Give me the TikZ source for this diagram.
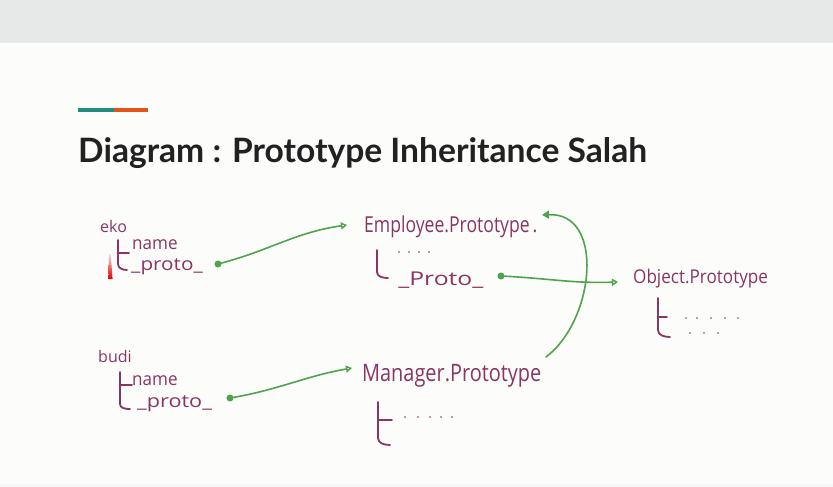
\documentclass[tikz,border=0pt]{standalone}
\usepackage{fontspec}
\setmainfont{Open Sans}
\newfontfamily\titlefont{Lato}
\usetikzlibrary{arrows.meta}
\definecolor{ink}{HTML}{8A3563}
\definecolor{pen}{HTML}{4FA34B}
\definecolor{band}{HTML}{E5E8E7}
\definecolor{paper}{HTML}{FCFCFB}
\definecolor{teal}{HTML}{1F8E7E}
\definecolor{rust}{HTML}{E4531C}
\tikzset{
  hand/.style={text=ink, inner sep=0pt, anchor=base west},
  tree/.style={draw=ink, line width=1.8pt, line cap=round, line join=round},
  link/.style={draw=pen, line width=1.6pt, line cap=round},
  dotnode/.style={circle, fill=pen, inner sep=0pt, minimum size=7pt},
  openhead/.style={-{Triangle[open,length=6pt,width=7pt,line width=1.4pt]}},
  fullhead/.style={-{Triangle[length=7pt,width=8pt]}},
  etc/.style={fill=ink, radius=0.9},
}
\newcommand{\fs}[1]{\fontsize{#1}{#1}\selectfont}
\begin{document}
\begin{tikzpicture}[x=1pt,y=-1pt]
% slide background
\fill[paper] (0,0) rectangle (833,487);
\useasboundingbox (0,0) rectangle (833,487);
\fill[band] (0,0) rectangle (833,42);
\draw[black!8] (0,42.5) -- (833,42.5);
\fill[black!3] (0,484) rectangle (833,487);
% accent bar and title
\fill[teal] (78,108) rectangle (114,112);
\fill[rust] (114,108) rectangle (148,112);
\node[anchor=base west, inner sep=0pt, text=black!87] (title) at (78,162)
  {\titlefont\bfseries\fs{33.6}Diagram : Prototype Inheritance Salah};

% object eko
\node[hand, font=\fs{16}] (eko) at (100,232) {eko};
\node[hand, font=\fs{18}, xscale=0.95] (ekoName) at (132,249) {name};
\node[hand, font=\fs{18}, xscale=1.15] (ekoProto) at (131,270) {\_proto\_};
\draw[tree] (118,240) -- (118,264) to[out=-90,in=180] (127,270);
\draw[tree] (118,253) -- (129,253);
\shade[top color=red!15, bottom color=red!85!black] (109,254) -- (110.6,254) -- (112.6,279) -- (108.4,279) -- cycle;
\node[dotnode] (ekoDot) at (218,264) {};

% object budi
\node[hand, font=\fs{16}] (budi) at (98,362) {budi};
\node[hand, font=\fs{18}, xscale=0.95] (budiName) at (132,385) {name};
\node[hand, font=\fs{18}, xscale=1.2] (budiProto) at (137,407) {\_proto\_};
\draw[tree] (120,372) -- (120,404) to[out=-90,in=180] (130,409);
\draw[tree] (120,385) -- (132,385);
\node[dotnode] (budiDot) at (230,398) {};

% Employee.prototype
\node[hand, font=\fs{22}, xscale=0.8] (emp) at (364,232) {Employee.Prototype\,.};
\coordinate (empIn) at (347,225);
\coordinate (empBack) at (542,215);
\draw[tree] (377,250) -- (377,272) to[out=-90,in=180] (388,278);
\foreach \x in {399,409,419,429} \fill[etc] (\x,252) circle;
\node[hand, font=\fs{19}, xscale=1.3] (empProto) at (398,285) {\_Proto\_};
\node[dotnode] (empDot) at (501,276) {};

% Object.prototype
\node[hand, font=\fs{19}, xscale=0.9] (obj) at (633,283) {Object.Prototype};
\coordinate (objIn) at (618,282);
\draw[tree] (658,298) -- (658,330) to[out=-90,in=180] (670,337);
\draw[tree] (658,317) -- (667,317);
\foreach \x in {686,697,711,725,738} \fill[etc] (\x,318) circle;
\foreach \x in {690,704,718} \fill[etc] (\x,333) circle;

% Manager.prototype
\node[hand, font=\fs{24}, xscale=0.83] (mgr) at (362,381) {Manager.Prototype};
\coordinate (mgrIn) at (352,368);
\coordinate (mgrOut) at (546,357);
\draw[tree] (378,402) -- (378,438) to[out=-90,in=180] (390,445);
\draw[tree] (378,420) -- (392,420);
\foreach \x in {405,418,430,441,452} \fill[etc] (\x,417) circle;

% __proto__ links
\draw[link, openhead] (ekoDot) to[out=15,in=188] (empIn);
\draw[link, openhead] (budiDot) to[out=10,in=190] (mgrIn);
\draw[link, openhead] (empDot) to[out=-3,in=182] (objIn);
\draw[link, fullhead] (mgrOut) .. controls (595,320) and (605,212) .. (empBack);
\end{tikzpicture}
\end{document}
